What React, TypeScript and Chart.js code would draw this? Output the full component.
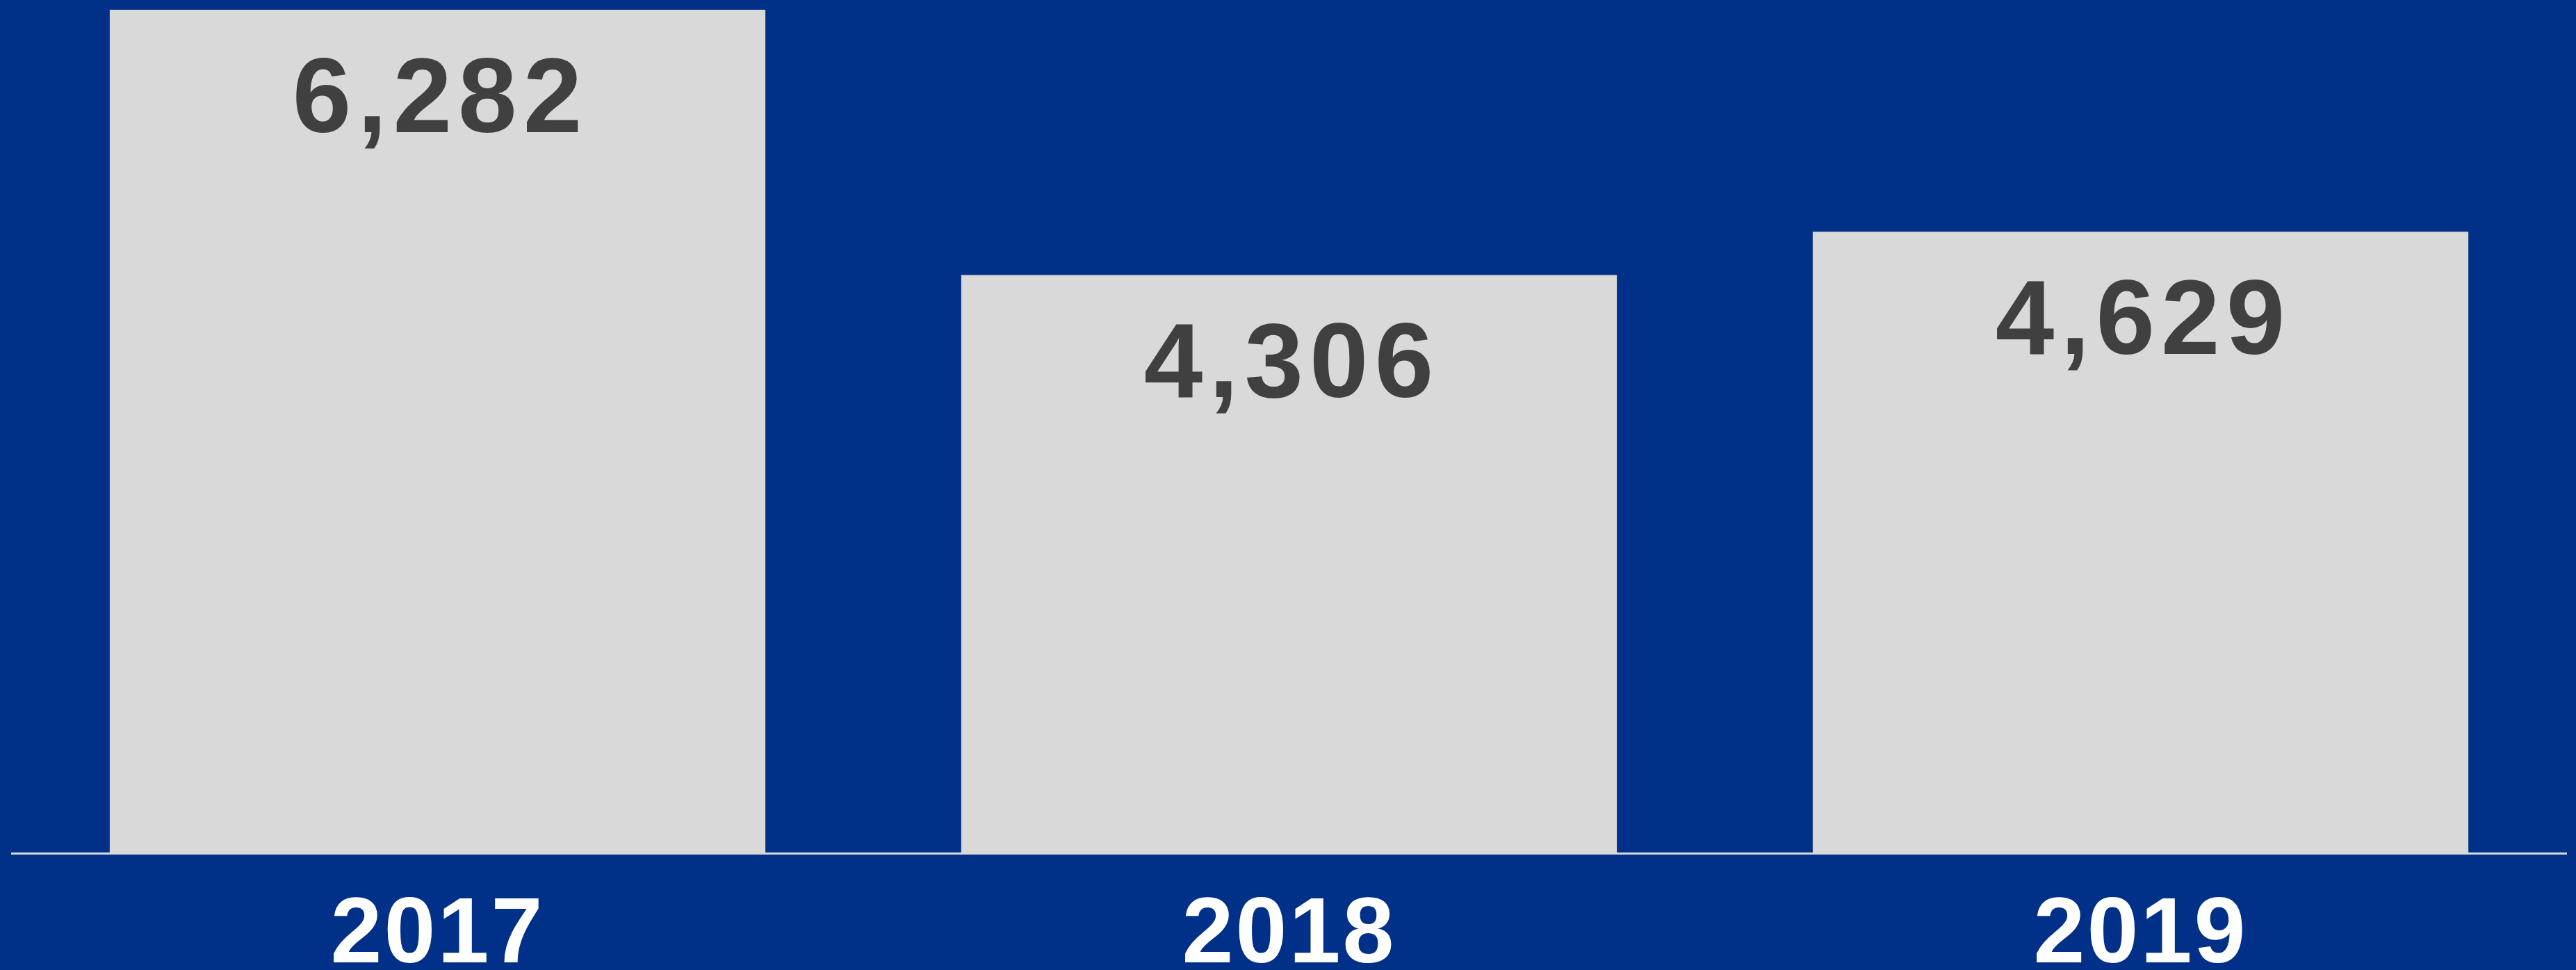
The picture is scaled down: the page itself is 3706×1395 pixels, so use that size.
import React, { useEffect, useRef } from "react";
import { Chart, registerables } from "chart.js";

Chart.register(...registerables);

const categories = ["2017", "2018", "2019"];
const values = [6282, 4306, 4629];
const yMax = 6282;

const BG = "#003087";
const BAR = "#D9D9D9";
const LABEL = "#404040";
const FONT = "'Liberation Sans', Arial, sans-serif";

const spacing = {
  id: "spacing",
  beforeDraw(chart: any) {
    chart.ctx.letterSpacing = "3px";
  },
};

const valueLabels = {
  id: "valueLabels",
  afterDatasetsDraw(chart: any) {
    const { ctx } = chart;
    const meta = chart.getDatasetMeta(0);
    ctx.save();
    ctx.font = `bold 152px ${FONT}`;
    ctx.letterSpacing = "9px";
    ctx.fillStyle = LABEL;
    ctx.textAlign = "center";
    ctx.textBaseline = "middle";
    meta.data.forEach((bar: any, i: number) => {
      const v = chart.data.datasets[0].data[i] as number;
      ctx.fillText(v.toLocaleString("en-US"), bar.x + 4, bar.y + 134);
    });
    ctx.restore();
  },
};

export default function App() {
  const ref = useRef<HTMLCanvasElement>(null);
  useEffect(() => {
    if (!ref.current) return;
    const chart = new Chart(ref.current, {
      type: "bar",
      data: {
        labels: categories,
        datasets: [
          {
            data: values,
            backgroundColor: BAR,
            borderWidth: 0,
            categoryPercentage: 1,
            barPercentage: 0.77,
          },
        ],
      },
      options: {
        animation: false,
        responsive: false,
        maintainAspectRatio: false,
        devicePixelRatio: 1,
        layout: { padding: { left: 17, right: 14, top: 14, bottom: 0 } },
        plugins: {
          legend: { display: false },
          tooltip: { enabled: false },
        },
        scales: {
          x: {
            grid: { display: false, drawTicks: false },
            border: { display: true, color: BAR, width: 3 },
            ticks: {
              color: "#FFFFFF",
              padding: 72,
              font: { family: FONT, size: 133, weight: "bold", lineHeight: 0.72 },
            },
            afterFit(scale: any) {
              scale.height = 168;
            },
          },
          y: {
            display: false,
            min: 0,
            max: yMax,
          },
        },
      },
      plugins: [spacing, valueLabels],
    });
    return () => chart.destroy();
  }, []);
  return (
    <div
      style={{
        position: "fixed",
        left: 0,
        top: 0,
        width: 3706,
        height: 1395,
        background: BG,
      }}
    >
      <canvas ref={ref} width={3706} height={1395} style={{ display: "block" }} />
    </div>
  );
}
